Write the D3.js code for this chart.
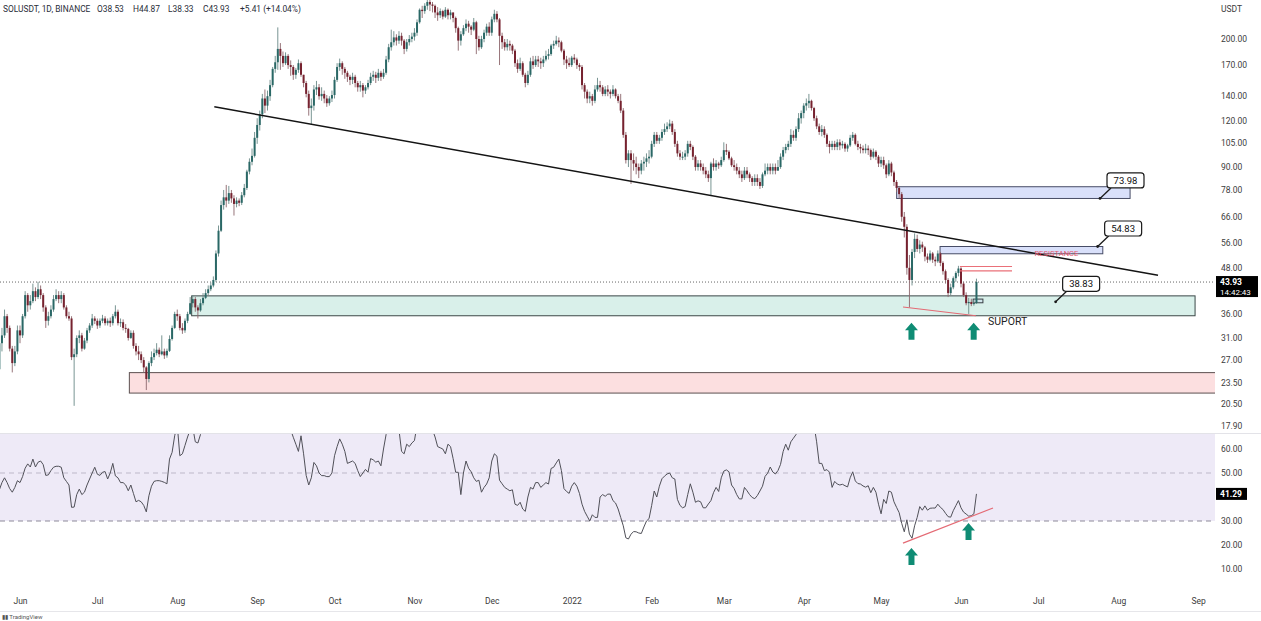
<!DOCTYPE html>
<html><head><meta charset="utf-8">
<script src="https://cdn.jsdelivr.net/npm/d3@7"></script>
<style>body{margin:0;background:#fff;}svg{display:block;font-family:Roboto,"Liberation Sans",sans-serif;}</style>
</head><body>
<svg id="c" width="1261" height="621"></svg>
<script>
// ---------- DATA ----------
const startDate = "2021-05-24";
const opens = [
25.5,30.0,31.5,35.5,33.0,29.0,26.5,28.5,
32.5,31.5,35.5,40.5,38.0,39.0,41.5,40.0,42.0,40.5,37.5,34.5,35.5,37.0,39.5,40.5,39.5,40.5,37.5,35.5,35.0,27.5,28.0,31.0,31.5,29.0,30.5,32.5,33.5,35.0,
34.5,33.5,34.5,35.0,34.0,34.5,34.0,35.5,36.5,34.0,34.2,33.0,32.8,31.0,32.0,29.5,28.5,28.0,27.0,25.8,24.0,26.5,27.5,28.2,28.8,28.0,28.5,27.8,28.6,30.8,33.0,
36.0,35.5,33.0,32.5,34.5,36.0,38.5,39.5,37.5,36.8,38.5,39.8,41.0,42.0,43.0,44.5,52.5,60.5,71.0,74.5,73.0,76.5,74.0,71.5,73.0,72.0,75.5,79.0,87.5,93.0,96.5,
108,117,125,138,132,140,150,166,173,188,180,172,180,170,168,160,165,172,160,152,142,130,132,146,148,140,142,138,134,138,
141,155,168,172,166,162,158,155,158,152,148,150,145,148,152,158,160,157,162,158,162,176,190,196,202,198,204,198,188,196,200,
203,208,222,240,238,246,252,248,246,236,232,238,230,240,232,236,228,214,198,206,214,220,216,212,222,200,190,200,208,216,
208,226,234,226,204,196,190,194,192,186,172,166,172,160,152,160,174,170,176,174,172,176,180,182,192,194,198,196,186,176,172,
170,178,176,170,168,150,144,138,140,136,146,150,148,142,146,144,142,146,140,136,128,110,94,98,94,92,90,88,92,93,95,
96,104,110,106,108,112,114,116,118,112,104,98,96,96,98,104,102,96,90,92,90,88,86,84,92,90,92,91,
94,100,99,95,91,90,88,86,84,88,86,84,82,84,82,80,86,88,90,88,90,88,90,96,100,102,104,110,108,114,122,
126,132,134,136,130,122,116,112,114,110,104,102,104,102,105,103,104,101,103,108,110,104,102,101,100,101,100,96,99,96,
92,94,91,86,92,87,82,79,76,66,62,48,44.5,53,57.5,54,55.5,54.5,51.5,50.5,52.5,50.5,50,52.5,49.5,47,44.5,41,42.5,45,46.5,
47.8,43.5,40.5,38.5,38.8,38.3,38.53];
const highs = [
31.0,33.0,37.0,36.0,33.5,29.5,29.5,33.5,
33.5,36.0,41.5,41.0,40.5,43.5,42.5,44.0,43.0,41.0,38.0,36.5,38.0,40.5,42.0,41.5,41.5,41.0,38.0,36.5,35.5,29.0,31.5,32.5,32.0,31.0,33.0,34.0,36.0,35.5,
35.0,35.0,35.8,35.5,35.0,35.2,36.0,38.0,37.0,35.0,34.8,33.8,33.0,32.5,32.5,30.0,29.5,28.5,27.5,26.0,26.8,28.5,29.0,30.0,29.2,31.5,29.0,29.0,31.5,33.5,36.5,
37.0,36.0,34.0,35.0,36.5,40.0,40.5,40.0,38.0,39.5,41.0,42.0,43.0,43.8,45.5,53.5,62.5,73.0,78.0,80.5,80.0,78.0,75.5,74.5,74.0,77.0,81.0,88.5,95.0,101.0,112.0,
122,128,142,146,145,155,168,180,215,195,185,184,182,175,170,167,176,174,160,154,145,138,150,154,151,148,145,141,140,145,
158,172,177,174,168,164,160,162,160,154,154,152,150,155,162,164,163,166,164,166,180,194,212,210,206,210,208,200,200,205,208,
214,226,242,246,250,260,256,252,248,244,242,240,244,242,240,236,230,216,210,218,226,224,218,228,224,204,204,212,220,222,
230,240,238,228,208,200,200,198,194,188,176,178,174,162,164,178,180,180,180,178,180,186,188,194,198,204,202,198,188,180,178,
180,182,178,172,170,152,146,144,142,150,157,154,150,149,150,146,150,147,142,142,130,112,100,100,98,96,92,94,96,98,100,
106,112,112,110,114,118,119,121,120,114,106,100,99,100,106,106,103,97,94,94,92,90,88,93,95,94,93,96,
105,104,100,96,94,92,90,88,90,90,87,85,86,86,84,87,92,92,92,92,92,94,98,102,104,106,114,113,116,126,128,
134,138,142,137,131,124,118,117,116,111,106,106,106,107,107,106,105,104,110,112,111,106,104,103,104,103,101,101,100,97,
96,96,92,94,93,88,83,80,77,68,63,52,54,59.5,59,57,56.5,55,52.5,53.5,53,51.5,53.5,53,50,47.5,45,43.5,45.5,47,48.6,
48.2,44,41.2,39.8,39.6,39.3,44.87];
const lows = [
24.5,28.5,31.0,32.0,28.5,25.0,26.0,28.0,
30.0,31.0,35.0,36.5,37.0,38.5,39.0,39.5,39.5,36.5,33.0,33.5,35.0,36.5,39.0,38.5,38.5,37.0,35.0,34.5,27.0,20.3,27.5,30.0,28.5,28.8,30.0,32.0,33.0,33.8,
32.8,33.0,34.0,33.5,33.5,33.2,33.5,35.0,33.5,33.2,32.5,32.0,30.5,30.8,29.0,27.8,27.0,26.5,25.0,22.4,23.5,26.0,27.0,27.8,27.5,27.8,27.2,27.4,28.4,30.5,32.8,
34.5,32.5,31.8,32.0,34.0,35.8,37.5,36.5,35.0,36.5,38.0,39.5,40.5,41.5,42.5,44.0,51.5,60.0,69.0,70.0,71.5,72.0,66.5,70.0,70.5,71.0,74.5,78.0,86.0,91.0,95.5,
104,113,122,126,128,136,148,162,165,165,168,170,166,159,155,156,162,158,148,139,124,117,128,141,137,136,134,131,132,135,
138,153,164,160,156,153,150,151,148,144,144,139,142,146,150,154,152,154,154,156,160,173,186,192,192,194,192,182,185,192,196,
198,204,220,228,234,240,238,236,228,224,228,226,228,226,226,222,208,186,192,204,210,208,205,210,182,186,188,196,204,204,
204,222,222,170,188,186,186,186,182,168,162,164,158,148,150,158,166,168,168,166,168,174,176,180,188,192,190,184,170,166,168,
168,172,166,164,146,138,134,134,132,134,144,144,140,140,140,138,140,138,134,126,108,92,90,81,88,86,84,86,88,90,92,
95,102,104,104,106,110,112,114,110,102,96,94,94,94,96,100,94,88,88,88,86,84,82,75.5,88,88,89,90,
93,97,94,90,88,86,84,82,83,84,82,80,80,80,78.5,79,85,86,86,86,86,88,89,94,98,100,102,106,106,112,118,
122,128,130,128,120,114,110,109,108,102,98,100,100,100,100,101,99,99,102,106,103,100,98,98,98,97,94,95,94,90,
90,89,84,85,85,80,77,74,64,58,46,37.5,43,51,53,52.5,53,50,49.5,50,49.5,48.5,49.5,48.5,46,43.5,40,40.5,42,44,45.5,
42.5,40,38,36,37.8,37.9,38.33];
const closes = [
30.0,31.5,35.5,33.0,29.0,26.5,28.5,32.5,
31.5,35.5,40.5,38.0,39.0,41.5,40.0,42.0,40.5,37.5,34.5,35.5,37.0,39.5,40.5,39.5,40.5,37.5,35.5,35.0,27.5,28.0,31.0,31.5,29.0,30.5,32.5,33.5,35.0,34.5,
33.5,34.5,35.0,34.0,34.5,34.0,35.5,36.5,34.0,34.2,33.0,32.8,31.0,32.0,29.5,28.5,28.0,27.0,25.8,24.0,26.5,27.5,28.2,28.8,28.0,28.5,27.8,28.6,30.8,33.0,36.0,
35.5,33.0,32.5,34.5,36.0,38.5,39.5,37.5,36.8,38.5,39.8,41.0,42.0,43.0,44.5,52.5,60.5,71.0,74.5,73.0,76.5,74.0,71.5,73.0,72.0,75.5,79.0,87.5,93.0,96.5,108.0,
117,125,138,132,140,150,166,173,188,180,172,180,170,168,160,165,172,160,152,142,130,132,146,148,140,142,138,134,138,141,
155,168,172,166,162,158,155,158,152,148,150,145,148,152,158,160,157,162,158,162,176,190,196,202,198,204,198,188,196,200,203,
208,222,240,238,246,252,248,246,236,232,238,230,240,232,236,228,214,198,206,214,220,216,212,222,200,190,200,208,216,208,
226,234,226,204,196,190,194,192,186,172,166,172,160,152,160,174,170,176,174,172,176,180,182,192,194,198,196,186,176,172,170,
178,176,170,168,150,144,138,140,136,146,150,148,142,146,144,142,146,140,136,128,110,94,98,94,92,90,88,92,93,95,96,
104,110,106,108,112,114,116,118,112,104,98,96,96,98,104,102,96,90,92,90,88,86,84,92,90,92,91,94,
100,99,95,91,90,88,86,84,88,86,84,82,84,82,80,86,88,90,88,90,88,90,96,100,102,104,110,108,114,122,126,
132,134,136,130,122,116,112,114,110,104,102,104,102,105,103,104,101,103,108,110,104,102,101,100,101,100,96,99,96,92,
94,91,86,92,87,82,79,76,66,62,48,44.5,53,57.5,54,55.5,54.5,51.5,50.5,52.5,50.5,50,52.5,49.5,47,44.5,41,42.5,45,46.5,47.8,
43.5,40.5,38.5,38.8,38.3,38.53,43.93];
const rsi = [
43,46,48,46,43.5,42,44,46.8,46,48.5,
52,53.8,52.5,55.8,52.5,54.5,55,53.5,49,49.2,
51,52.4,52.8,52.8,52.4,48,46.5,45,35.7,35.8,
41,43.3,41,42,45,47.5,50,52.4,49.5,49,
50.3,50.6,47.5,50,54,48.8,48,46,46,45,
42.6,45,41.5,38,38.6,38,36.5,33.8,40.5,44.5,
46.5,46.8,46.8,46.5,46.1,45.5,55.8,58.6,65.5,70,
57.2,58,61.5,65,68,69,63,62.5,66,70,
71,73,73,75,80,84,86,86,83,83,
80,78,77,76,78,80,83,85,86,87,
88,89,89,88,89,90,90,91,88,80,
77,74,70,68,64.9,62,59,65.5,58,49,
45,48,54.4,53,50,48.9,48.9,48.5,48.5,50,
57.2,61,64.2,62,59,54,54.5,55,54,51,
48.5,50,51.5,50.3,56,55.5,54.5,55,53,60,
66,72,74,72,70,68,59,58,62,61,
62.5,63.5,70,74,76,76,77,73,68,65,
61,60.5,60,58,62,61,56,50.3,50.3,41,
50,55,52,50.5,48,46.5,47,42,44,45.4,
48,55,58,57,47,45.5,44,43.3,42.6,43,
37,36.5,37.8,35,34,40,44,43.3,46,46,
44,45,46,45.4,51.9,52.4,54.2,55.8,51,43.5,
42.3,41.5,44.5,46,44.5,41.5,37,34,32,30,
32.6,31.5,31.5,40,41,40.3,41.2,41.2,38.5,37.5,
35,31.5,28,23,22.5,24.5,25.6,25.5,25,24.8,
27.5,30,31,36.4,42.5,40,44.5,47.6,48.7,49.6,
50,48,47.5,39,36.5,35.5,36,41,45.5,42,
37.8,38.4,38,35.5,35.5,37.1,38.5,41.8,44,42.3,
48,50.8,51.3,50.5,45,43.5,41,39.2,39.2,44,
42.6,41,39.8,39.3,40.6,42.5,44.5,48.6,49.9,52.5,
50.4,49.6,51,53.6,58.9,62,59.5,63,64.5,66,
70,73,74,76,75,73,70,63,54,54,
51,51.4,50.3,44,46.5,45.4,45,45.3,44.7,44.2,
48,50.5,46.7,45.6,45.4,44.6,44.1,44.7,41.8,44,
42,37,33,39,37.3,42.5,42,38,35.7,33.5,
29,25.5,30.5,24.5,22.8,28,31.5,36,34.5,36.3,
34.5,35.3,35.4,35.4,37,35.7,34.8,33.2,31.8,31.6,
34.3,36.4,38.5,35.5,33.7,32.9,32,32.2,33,41.29];
const priceTicks = [200,170,140,120,105,90,78,66,56,48,36,31,27,23.5,20.5,17.9];
const rsiTicks = [60,50,30,20,10];
const monthTicks = ["2021-06-01","2021-07-01","2021-08-01","2021-09-01","2021-10-01","2021-11-01","2021-12-01","2022-01-01","2022-02-01","2022-03-01","2022-04-01","2022-05-01","2022-06-01","2022-07-01","2022-08-01","2022-09-01"];
const monthLabels = ["Jun","Jul","Aug","Sep","Oct","Nov","Dec","2022","Feb","Mar","Apr","May","Jun","Jul","Aug","Sep"];
// drawings (in date / price units)
const trendLine = [["2021-08-15T09:00:00Z",131],["2022-08-16T10:00:00Z",45.8]];
const zones = [
  {from:"2022-05-07T01:00:00Z",to:"2022-08-05T14:00:00Z",lo:73.98,hi:79.6,kind:"blue"},
  {from:"2022-05-23T21:00:00Z",to:"2022-07-26T00:00:00Z",lo:52.4,hi:54.83,kind:"blue"},
  {from:"2021-08-06T14:00:00Z",to:"2022-08-30T19:00:00Z",lo:35.6,hi:40.3,kind:"green"},
  {from:"2021-07-13T10:00:00Z",to:"2022-12-31T00:00:00Z",lo:21.98,hi:24.97,kind:"pink"},
  {from:"2022-06-05T17:00:00Z",to:"2022-06-09T12:00:00Z",lo:38.6,hi:39.5,kind:"small"}
];
const redLevels = [48.4,47.1];
const redLevelSpan = ["2022-05-31T14:00:00Z","2022-06-20T19:00:00Z"];
const callouts = [
  {date:"2022-07-24T22:00:00Z",price:73.98},
  {date:"2022-07-24T00:00:00Z",price:54.83},
  {date:"2022-07-07T17:00:00Z",price:38.83}
];
const supportLine = [["2022-05-09T12:00:00Z",37.6],["2022-06-06T19:00:00Z",35.6]];
const rsiSupport = [["2022-05-09T12:00:00Z",20.8],["2022-06-13T10:00:00Z",35.4]];
const priceArrows = [{date:"2022-05-12T19:00:00Z",price:34.1},{date:"2022-06-05T22:00:00Z",price:34.1}];
const rsiArrows = [{date:"2022-05-12T19:00:00Z",v:18.75},{date:"2022-06-03T22:00:00Z",v:29.2}];
const supportText = {date:"2022-06-11T12:00:00Z",price:34.4,text:"SUPORT"};
const resistText = {date:"2022-07-08T00:00:00Z",price:52.7,text:"RESISTANCE"};
const header = ["SOLUSDT, 1D, BINANCE","O38.53","H44.87","L38.33","C43.93","+5.41 (+14.04%)"];
const lastTime = "14:42:43";

// ---------- CHART ----------
const T = s => new Date(s.length === 10 ? s + "T00:00:00Z" : s);
const svg = d3.select("#c");
const PR = 1215, MB = 433, RT = 434, RB = 590;
const x = d3.scaleUtc().domain([T("2021-06-01"), T("2022-06-01")]).range([20, 961]);
const y = d3.scaleLog().domain([200, 17.9]).range([39, 426]);
const yr = d3.scaleLinear().domain([60, 10]).range([449, 569]);

const defs = svg.append("defs");
defs.append("clipPath").attr("id","cm").append("rect").attr("x",0).attr("y",0).attr("width",PR).attr("height",MB);
defs.append("clipPath").attr("id","cr").append("rect").attr("x",0).attr("y",RT).attr("width",PR).attr("height",RB-RT);

const start = T(startDate);
const candles = closes.map((c,i)=>({date:d3.utcDay.offset(start,i),o:opens[i],h:highs[i],l:lows[i],c:c}));

// RSI pane background
const gR = svg.append("g").attr("clip-path","url(#cr)");
gR.append("rect").attr("x",0).attr("width",PR).attr("y",yr(70)).attr("height",yr(30)-yr(70)).attr("fill","#eeeaf7");
gR.append("line").attr("x1",0).attr("x2",PR).attr("y1",yr(50)).attr("y2",yr(50)).attr("stroke","#bdb8c9").attr("stroke-dasharray","5,4");
gR.append("line").attr("x1",0).attr("x2",PR).attr("y1",yr(30)).attr("y2",yr(30)).attr("stroke","#8d8a99").attr("stroke-dasharray","5,4");
gR.append("path").datum(candles.map((d,i)=>({date:d.date,v:rsi[i]})))
  .attr("d",d3.line().x(d=>x(d.date)).y(d=>yr(d.v)))
  .attr("fill","none").attr("stroke","#505058").attr("stroke-width",1);
gR.append("line").attr("x1",x(T(rsiSupport[0][0]))).attr("y1",yr(rsiSupport[0][1]))
  .attr("x2",x(T(rsiSupport[1][0]))).attr("y2",yr(rsiSupport[1][1])).attr("stroke","#e46a74").attr("stroke-width",1.2);

// separators
svg.append("line").attr("x1",0).attr("x2",1261).attr("y1",433.5).attr("y2",433.5).attr("stroke","#e3e3e8");

// Main pane
const gM = svg.append("g").attr("clip-path","url(#cm)");
const zoneStyle = {
  blue:{fill:"#d9e0fa",stroke:"#474c66"},
  green:{fill:"#d9f0ea",stroke:"#3b4847"},
  pink:{fill:"#fcdfe0",stroke:"#5c5050"},
  small:{fill:"#d2e6ec",stroke:"#3a3f44"}
};
gM.selectAll("rect.zone").data(zones).join("rect").attr("class","zone")
  .attr("x",d=>x(T(d.from))).attr("width",d=>x(T(d.to))-x(T(d.from)))
  .attr("y",d=>y(d.hi)).attr("height",d=>y(d.lo)-y(d.hi))
  .attr("fill",d=>zoneStyle[d.kind].fill).attr("stroke",d=>zoneStyle[d.kind].stroke).attr("stroke-width",1);

// current price dotted line
gM.append("line").attr("x1",0).attr("x2",PR).attr("y1",y(closes[closes.length-1])).attr("y2",y(closes[closes.length-1]))
  .attr("stroke","#666").attr("stroke-dasharray","1,2").attr("stroke-width",1);

// candles
const up = "#2a6866", dn = "#76222f";
gM.selectAll("line.wick").data(candles).join("line").attr("class","wick")
  .attr("x1",d=>x(d.date)).attr("x2",d=>x(d.date))
  .attr("y1",d=>y(Math.max(d.h,d.o,d.c))).attr("y2",d=>y(Math.min(d.l,d.o,d.c)))
  .attr("stroke",d=>d.c>=d.o?"#6a8987":"#8c676c").attr("stroke-width",0.9);
gM.selectAll("rect.body").data(candles).join("rect").attr("class","body")
  .attr("x",d=>x(d.date)-1).attr("width",2)
  .attr("y",d=>y(Math.max(d.o,d.c)))
  .attr("height",d=>Math.max(1,Math.abs(y(d.o)-y(d.c))))
  .attr("fill",d=>d.c>=d.o?up:dn);

// trend line
gM.append("line").attr("x1",x(T(trendLine[0][0]))).attr("y1",y(trendLine[0][1]))
  .attr("x2",x(T(trendLine[1][0]))).attr("y2",y(trendLine[1][1])).attr("stroke","#141414").attr("stroke-width",1.5);

// red levels
gM.selectAll("line.red").data(redLevels).join("line").attr("class","red")
  .attr("x1",x(T(redLevelSpan[0]))).attr("x2",x(T(redLevelSpan[1]))).attr("y1",d=>y(d)).attr("y2",d=>y(d))
  .attr("stroke","#ea7079").attr("stroke-width",1.2);
// support line
gM.append("line").attr("x1",x(T(supportLine[0][0]))).attr("y1",y(supportLine[0][1]))
  .attr("x2",x(T(supportLine[1][0]))).attr("y2",y(supportLine[1][1])).attr("stroke","#e46a74").attr("stroke-width",1.1);

// texts
gM.append("text").attr("x",x(T(resistText.date))).attr("y",y(resistText.price)).attr("dy","0.35em")
  .attr("text-anchor","middle").attr("font-size",7.6).attr("fill","#e3566c").text(resistText.text);
gM.append("text").attr("x",x(T(supportText.date))).attr("y",y(supportText.price)).attr("dy","0.35em")
  .attr("font-size",10.5).attr("fill","#222").text(supportText.text);

// callouts
callouts.forEach(c=>{
  const px = x(T(c.date)), py = y(c.price);
  const bx = px+7, by = py-25.5, bw = 37, bh = 15;
  gM.append("line").attr("x1",px).attr("y1",py).attr("x2",bx+4).attr("y2",by+bh).attr("stroke","#1a1a1a").attr("stroke-width",1.3);
  gM.append("circle").attr("cx",px).attr("cy",py).attr("r",1.4).attr("fill","#1a1a1a");
  gM.append("rect").attr("x",bx).attr("y",by).attr("width",bw).attr("height",bh).attr("rx",3)
    .attr("fill","#fff").attr("stroke","#1a1a1a").attr("stroke-width",1.2);
  gM.append("text").attr("x",bx+bw/2).attr("y",by+bh/2).attr("dy","0.36em").attr("text-anchor","middle")
    .attr("font-size",9.5).attr("fill","#111").text(d3.format(".2f")(c.price));
});

// arrows
function arrow(g, cx, ty){
  const p = `M${cx},${ty} L${cx+6.5},${ty+7.5} L${cx+3},${ty+7.5} L${cx+3},${ty+17} L${cx-3},${ty+17} L${cx-3},${ty+7.5} L${cx-6.5},${ty+7.5} Z`;
  g.append("path").attr("d",p).attr("fill","#0f8c74");
}
priceArrows.forEach(a=>arrow(gM, x(T(a.date)), y(a.price)));
rsiArrows.forEach(a=>arrow(svg, x(T(a.date)), yr(a.v)));

// ---------- AXES ----------
const axY = svg.append("g").attr("transform",`translate(${PR+2},0)`)
  .call(d3.axisRight(y).tickValues(priceTicks).tickFormat(d3.format(".2f")).tickSize(0).tickPadding(4));
axY.select(".domain").remove();
axY.selectAll("text").attr("font-size",8.5).attr("fill","#3c3c3c").attr("font-family","Roboto,sans-serif");
const axR = svg.append("g").attr("transform",`translate(${PR+2},0)`)
  .call(d3.axisRight(yr).tickValues(rsiTicks).tickFormat(d3.format(".2f")).tickSize(0).tickPadding(4));
axR.select(".domain").remove();
axR.selectAll("text").attr("font-size",8.5).attr("fill","#3c3c3c").attr("font-family","Roboto,sans-serif");
const axX = svg.append("g").attr("transform",`translate(0,595)`)
  .call(d3.axisBottom(x).tickValues(monthTicks.map(T)).tickFormat((d,i)=>monthLabels[i]).tickSize(0).tickPadding(3));
axX.select(".domain").remove();
axX.selectAll("text").attr("font-size",8.5).attr("fill","#3c3c3c").attr("font-family","Roboto,sans-serif");

svg.append("text").attr("x",1221).attr("y",12).attr("font-size",8.5).attr("fill","#3c3c3c").text("USDT");
svg.append("line").attr("x1",0).attr("x2",1261).attr("y1",611.5).attr("y2",611.5).attr("stroke","#e6e6ea");

// last price label
const lp = y(closes[closes.length-1]);
svg.append("rect").attr("x",1216).attr("y",lp-6).attr("width",42).attr("height",21).attr("fill","#000");
svg.append("text").attr("x",1220).attr("y",lp+3).attr("font-size",8.5).attr("fill","#fff").attr("font-weight",700).text(d3.format(".2f")(closes[closes.length-1]));
svg.append("text").attr("x",1220).attr("y",lp+12.5).attr("font-size",8).attr("fill","#fff").text(lastTime);
// last rsi label
const lr = yr(rsi[rsi.length-1]);
svg.append("rect").attr("x",1216).attr("y",lr-6).attr("width",31).attr("height",12).attr("fill","#000");
svg.append("text").attr("x",1220).attr("y",lr+3).attr("font-size",8.5).attr("fill","#fff").attr("font-weight",700).text(d3.format(".2f")(rsi[rsi.length-1]));

// header
const ht = svg.append("text").attr("x",3).attr("y",12).attr("font-size",8.4).attr("fill","#2a2e39");
const hx = [3, 97, 133, 168, 203, 240];
header.forEach((s,i)=>ht.append("tspan").attr("x",hx[i]).text(s));
// footer logo
svg.append("text").attr("x",2).attr("y",619).attr("font-size",6).attr("fill","#555").text("▮▮ TradingView");
</script>
</body></html>
